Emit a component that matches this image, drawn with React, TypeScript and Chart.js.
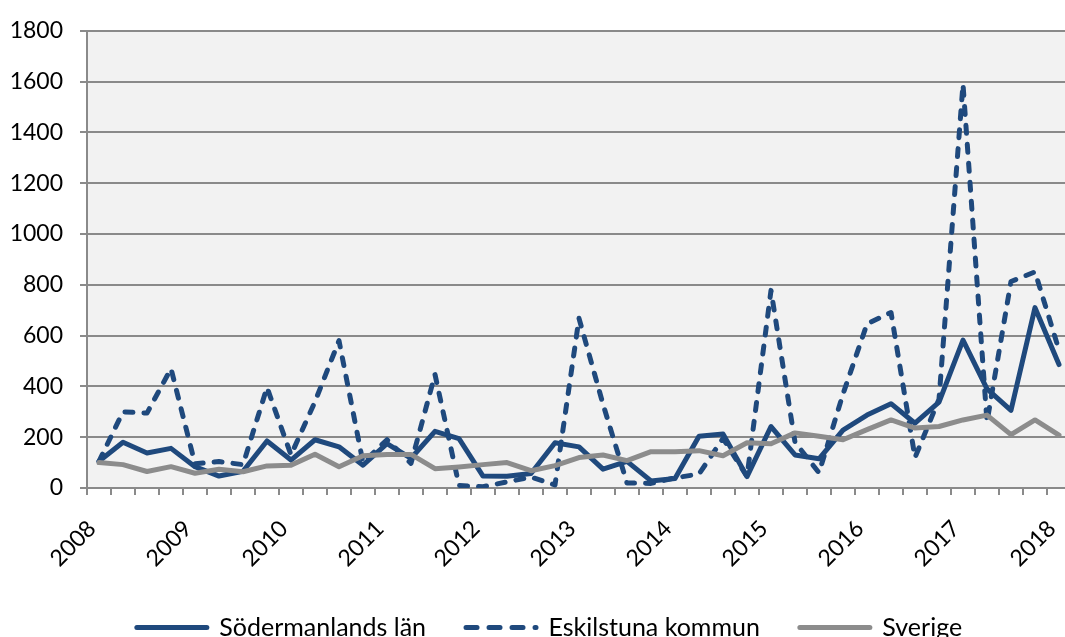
import React, { useEffect, useRef } from "react";
import { Chart, registerables } from "chart.js";

Chart.register(...registerables);

// Quarterly categories, 2008 K1 – 2018 K1
const quarters = [
  "2008 K1", "2008 K2", "2008 K3", "2008 K4",
  "2009 K1", "2009 K2", "2009 K3", "2009 K4",
  "2010 K1", "2010 K2", "2010 K3", "2010 K4",
  "2011 K1", "2011 K2", "2011 K3", "2011 K4",
  "2012 K1", "2012 K2", "2012 K3", "2012 K4",
  "2013 K1", "2013 K2", "2013 K3", "2013 K4",
  "2014 K1", "2014 K2", "2014 K3", "2014 K4",
  "2015 K1", "2015 K2", "2015 K3", "2015 K4",
  "2016 K1", "2016 K2", "2016 K3", "2016 K4",
  "2017 K1", "2017 K2", "2017 K3", "2017 K4",
  "2018 K1",
];

const yearTicks = ["2008", "2009", "2010", "2011", "2012", "2013", "2014", "2015", "2016", "2017", "2018"];

const sodermanland = [
  105, 180, 138, 156, 84, 47, 66, 185,
  110, 190, 162, 90, 175, 117, 223, 194,
  47, 46, 57, 178, 162, 74, 105, 28,
  37, 204, 213, 45, 242, 130, 115, 228,
  287, 332, 255, 338, 582, 390, 306, 710,
  486,
];

const eskilstuna = [
  105, 300, 295, 470, 95, 104, 92, 396,
  130, 340, 580, 100, 190, 97, 447, 10,
  5, 24, 43, 12, 668, 330, 20, 18,
  40, 55, 195, 45, 778, 180, 60, 370,
  646, 691, 120, 350, 1590, 260, 813, 851,
  543,
];

const sverige = [
  100, 92, 65, 84, 58, 74, 64, 87,
  90, 133, 84, 127, 132, 132, 76, 83,
  92, 100, 68, 88, 120, 130, 108, 143,
  143, 147, 127, 178, 174, 217, 204, 190,
  230, 268, 236, 242, 268, 287, 210, 268,
  208,
];

const seriesNames = ["Södermanlands län", "Eskilstuna kommun", "Sverige"];

const BLUE = "#1F497D";
const GREY = "#8C8C8C";
const GRID = "#8A8A8A";
const FONT = "Lato, 'DejaVu Sans', sans-serif";

const plotBg = {
  id: "plotBg",
  beforeDraw(chart: any) {
    const { ctx, chartArea } = chart;
    if (!chartArea) return;
    ctx.save();
    ctx.fillStyle = "#F2F2F2";
    ctx.fillRect(chartArea.left, chartArea.top, chartArea.right - chartArea.left, chartArea.bottom - chartArea.top);
    ctx.restore();
  },
};

// nudge the legend row to the right so it is centred like the original
const legendShift = {
  id: "legendShift",
  afterLayout(chart: any) {
    const lg = chart.legend;
    if (lg) {
      lg.left += 14;
      lg.right += 14;
    }
  },
};

export default function App() {
  const ref = useRef<HTMLCanvasElement | null>(null);

  useEffect(() => {
    if (!ref.current) return;
    const chart = new Chart(ref.current, {
      type: "line",
      data: {
        labels: quarters,
        datasets: [
          {
            label: seriesNames[0],
            data: sodermanland,
            borderColor: BLUE,
            backgroundColor: BLUE,
            borderWidth: 5,
            pointRadius: 0,
            tension: 0,
            borderJoinStyle: "round",
            borderCapStyle: "round",
            order: 2,
          },
          {
            label: seriesNames[1],
            data: eskilstuna,
            borderColor: BLUE,
            backgroundColor: BLUE,
            borderWidth: 5,
            borderDash: [8, 11],
            borderCapStyle: "round",
            borderJoinStyle: "round",
            pointRadius: 0,
            tension: 0,
            order: 1,
          },
          {
            label: seriesNames[2],
            data: sverige,
            borderColor: GREY,
            backgroundColor: GREY,
            borderWidth: 5,
            pointRadius: 0,
            tension: 0,
            borderJoinStyle: "round",
            borderCapStyle: "round",
            order: 0,
          },
        ],
      },
      options: {
        responsive: false,
        animation: false,
        devicePixelRatio: 1,
        layout: { padding: { left: 0, top: 20, right: 28, bottom: 30 } },
        plugins: {
          tooltip: { enabled: false },
          legend: {
            position: "bottom",
            labels: {
              usePointStyle: true,
              pointStyle: "line",
              pointStyleWidth: 70,
              boxHeight: 25,
              padding: 40,
              color: "#000",
              font: { family: FONT, size: 25 },
              sort: (a: any, b: any) => a.datasetIndex - b.datasetIndex,
              generateLabels: (c: any) => {
                const items = (Chart.defaults as any).plugins.legend.labels.generateLabels(c);
                return items.map((it: any) => {
                  const ds = c.data.datasets[it.datasetIndex];
                  return {
                    ...it,
                    lineDash: ds.borderDash ? [11, 12] : [],
                    lineWidth: 5,
                    lineCap: "round",
                    strokeStyle: ds.borderColor,
                    fillStyle: ds.borderColor,
                  };
                });
              },
            },
          },
        },
        scales: {
          x: {
            offset: true,
            afterFit: (s: any) => {
              s.height = 87;
            },
            grid: {
              offset: true,
              drawOnChartArea: false,
              drawTicks: true,
              tickLength: 7,
              color: GRID,
              lineWidth: 2,
            },
            border: { display: true, color: GRID, width: 2 },
            ticks: {
              autoSkip: false,
              minRotation: 45,
              maxRotation: 45,
              padding: 20,
              labelOffset: -7,
              color: "#000",
              font: { family: FONT, size: 23 },
              callback: (_v: any, i: number) => (i % 4 === 0 ? yearTicks[i / 4] : ""),
            },
          },
          y: {
            min: 0,
            max: 1800,
            afterFit: (s: any) => {
              s.width = 87;
            },
            grid: {
              color: GRID,
              lineWidth: 2,
              drawTicks: true,
              tickLength: 7,
            },
            border: { display: true, color: GRID, width: 2 },
            ticks: {
              stepSize: 200,
              padding: 17,
              color: "#000",
              font: { family: FONT, size: 23 },
              callback: (v: any) => String(v),
            },
          },
        },
      },
      plugins: [plotBg, legendShift],
    } as any);
    return () => chart.destroy();
  }, []);

  return (
    <div
      style={{
        position: "absolute",
        left: 0,
        top: 0,
        width: 1065,
        height: 637,
        overflow: "hidden",
        background: "#fff",
      }}
    >
      <canvas ref={ref} width={1099} height={680} style={{ display: "block", width: 1099, height: 680 }} />
    </div>
  );
}
